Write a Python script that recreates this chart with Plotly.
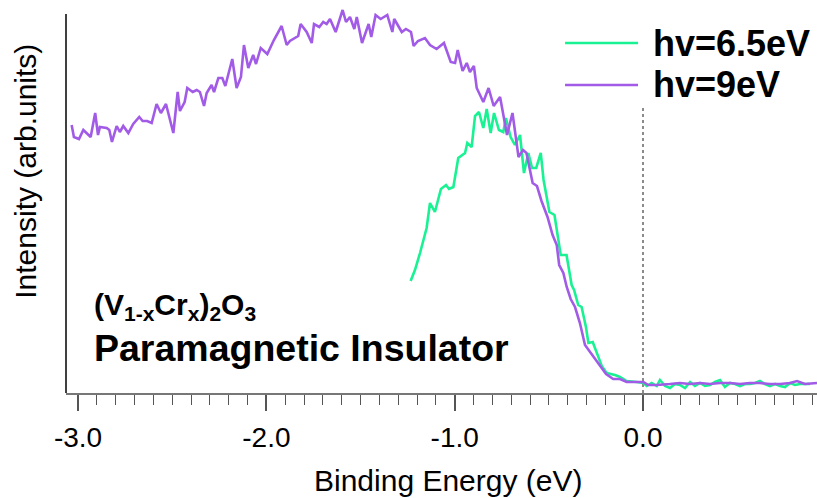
import plotly.graph_objects as go

# ---- data (binding energy in eV, intensity in arb. units) ----
E_9eV = [-3.034, -3.022, -2.995, -2.972, -2.933, -2.909, -2.894, -2.884, -2.848, -2.834,
         -2.820, -2.795, -2.778, -2.760, -2.733, -2.707, -2.675, -2.657, -2.633, -2.609,
         -2.583, -2.560, -2.533, -2.494, -2.471, -2.459, -2.434, -2.420, -2.391, -2.370,
         -2.353, -2.331, -2.317, -2.291, -2.278, -2.255, -2.234, -2.218, -2.181, -2.158,
         -2.135, -2.119, -2.096, -2.070, -2.055, -2.030, -1.995, -1.960, -1.919, -1.892,
         -1.875, -1.831, -1.818, -1.786, -1.759, -1.747, -1.719, -1.698, -1.680, -1.662,
         -1.632, -1.595, -1.577, -1.556, -1.533, -1.520, -1.492, -1.457, -1.443, -1.420,
         -1.393, -1.358, -1.331, -1.321, -1.281, -1.259, -1.232, -1.218, -1.195, -1.158,
         -1.131, -1.096, -1.057, -1.021, -0.998, -0.984, -0.958, -0.936, -0.919, -0.898,
         -0.883, -0.848, -0.820, -0.793, -0.759, -0.722, -0.693, -0.661, -0.637, -0.619,
         -0.586, -0.563, -0.539, -0.507, -0.480, -0.458, -0.445, -0.423, -0.405, -0.384,
         -0.361, -0.335, -0.308, -0.281, -0.246, -0.196, -0.158, -0.122, -0.087, -0.052,
         0.002, 0.028, 0.073, 0.143, 0.196, 0.250, 0.303, 0.356, 0.409, 0.462,
         0.515, 0.568, 0.621, 0.674, 0.728, 0.781, 0.818, 0.860, 0.897, 0.924]
I_9eV = [268, 256, 254, 263, 256, 280, 258, 266, 265, 263,
         251, 267, 261, 267, 260, 269, 276, 272, 272, 270,
         289, 280, 289, 260, 301, 282, 291, 305, 301, 303,
         301, 287, 300, 308, 301, 315, 315, 307, 334, 305,
         316, 348, 325, 338, 329, 345, 339, 353, 367, 348,
         352, 357, 369, 361, 350, 369, 366, 371, 369, 374,
         361, 383, 371, 376, 364, 376, 350, 369, 356, 378,
         374, 378, 361, 374, 361, 364, 361, 347, 352, 355,
         348, 344, 350, 331, 330, 343, 322, 330, 321, 327,
         305, 291, 305, 287, 296, 258, 280, 236, 243, 240,
         210, 207, 192, 176, 158, 148, 128, 120, 106, 94,
         86, 70, 48, 41, 33, 19, 14, 14, 11, 11,
         11, 8, 8, 9, 10, 9, 10, 9, 10, 10,
         9, 10, 10, 9, 9, 10, 12, 9, 10, 10]

E_65eV = [-1.234, -1.211, -1.184, -1.170, -1.149, -1.131, -1.105, -1.073, -1.046, -1.030,
          -1.007, -0.981, -0.963, -0.945, -0.933, -0.910, -0.892, -0.871, -0.848, -0.830,
          -0.809, -0.791, -0.765, -0.742, -0.728, -0.703, -0.680, -0.653, -0.632, -0.609,
          -0.589, -0.567, -0.543, -0.528, -0.497, -0.470, -0.437, -0.406, -0.379, -0.366,
          -0.344, -0.326, -0.303, -0.290, -0.267, -0.246, -0.219, -0.193, -0.149, -0.122,
          -0.087, -0.033, 0.002, 0.020, 0.046, 0.073, 0.090, 0.117, 0.143, 0.170,
          0.196, 0.223, 0.250, 0.276, 0.303, 0.329, 0.356, 0.382, 0.409, 0.435,
          0.462, 0.489, 0.515, 0.542, 0.568, 0.595, 0.621, 0.648, 0.674, 0.701,
          0.728, 0.754, 0.781, 0.807, 0.834, 0.860, 0.887]
I_65eV = [112, 123, 140, 151, 165, 190, 181, 204, 208, 204,
          206, 235, 238, 240, 250, 246, 277, 281, 265, 284,
          260, 280, 263, 261, 275, 256, 248, 258, 220, 240,
          225, 225, 240, 213, 181, 178, 138, 138, 108, 103,
          88, 86, 66, 50, 51, 40, 27, 20, 18, 16,
          12, 11, 10, 7, 10, 7, 13, 7, 5, 9,
          8, 5, 11, 7, 10, 7, 8, 11, 13, 6,
          10, 9, 7, 9, 9, 10, 12, 9, 7, 9,
          7, 6, 10, 8, 9, 9, 9]

X_TICK_VALUES = [-3.0, -2.0, -1.0, 0.0]
X_TICK_LABELS = ["-3.0", "-2.0", "-1.0", "0.0"]
SERIES_NAMES = ["hv=6.5eV", "hv=9eV"]
FERMI_LEVEL = 0.0
FERMI_LINE_TOP = 285

GREEN = "#19f293"
PURPLE = "#a25be6"
FONT = "Liberation Sans, Arial, Helvetica, sans-serif"

fig = go.Figure()
fig.add_trace(go.Scatter(x=E_65eV, y=I_65eV, mode="lines", name=SERIES_NAMES[0],
                         line=dict(color=GREEN, width=2.6), showlegend=False))
fig.add_trace(go.Scatter(x=E_9eV, y=I_9eV, mode="lines", name=SERIES_NAMES[1],
                         line=dict(color=PURPLE, width=2.6), showlegend=False))

# Fermi level dotted line
fig.add_shape(type="line", xref="x", yref="y", x0=FERMI_LEVEL, x1=FERMI_LEVEL,
              y0=0, y1=FERMI_LINE_TOP, line=dict(color="#666666", width=1.5, dash="dot"),
              layer="below")
# y axis line (shorter than the plotting area)
fig.add_shape(type="line", xref="paper", yref="paper", x0=0, x1=0, y0=0, y1=0.977,
              line=dict(color="black", width=1.5))

# manual legend
leg_y = [0.902, 0.794]
for name, col, yy in zip(SERIES_NAMES, [GREEN, PURPLE], leg_y):
    fig.add_shape(type="line", xref="paper", yref="paper", x0=0.6645, x1=0.7617,
                  y0=yy, y1=yy, line=dict(color=col, width=2.6))
    fig.add_annotation(xref="paper", yref="paper", x=0.7790, y=yy, text="<b>%s</b>" % name,
                       showarrow=False, xanchor="left", yanchor="middle",
                       font=dict(family=FONT, size=36, color="black"))

fig.add_annotation(xref="paper", yref="paper", x=0.034, y=0.222,
                   text="<b>(V<sub>1-x</sub>Cr<sub>x</sub>)<sub>2</sub>O<sub>3</sub></b>",
                   showarrow=False, xanchor="left", yanchor="middle",
                   font=dict(family=FONT, size=30, color="black"))
fig.add_annotation(xref="paper", yref="paper", x=0.034, y=0.115,
                   text="<b>Paramagnetic Insulator</b>",
                   showarrow=False, xanchor="left", yanchor="middle",
                   font=dict(family=FONT, size=37.5, color="black"))

# axis titles
fig.add_annotation(xref="paper", yref="paper", x=0.5087, y=-0.226,
                   text="Binding Energy (eV)", showarrow=False,
                   xanchor="center", yanchor="middle",
                   font=dict(family=FONT, size=30, color="black"))
fig.add_annotation(xref="paper", yref="paper", x=-0.055, y=0.572,
                   text="Intensity (arb.units)", showarrow=False, textangle=-90,
                   xanchor="center", yanchor="middle",
                   font=dict(family=FONT, size=30, color="black"))

fig.update_layout(
    width=817, height=498,
    margin=dict(l=66, r=0, t=5, b=105),
    paper_bgcolor="white", plot_bgcolor="white",
    font=dict(family=FONT, color="black"),
    showlegend=False,
)
fig.update_xaxes(range=[-3.064, 0.924], showgrid=False, zeroline=False,
                 showline=True, linecolor="#777777", linewidth=2,
                 ticks="outside", ticklen=16, tickwidth=1.5, tickcolor="#555555",
                 tickvals=X_TICK_VALUES, ticktext=X_TICK_LABELS, ticklabelstandoff=2,
                 tickfont=dict(family=FONT, size=28, color="black"),
                 minor=dict(dtick=0.1, tick0=-3.0, ticks="outside", ticklen=10,
                            tickwidth=1.2, tickcolor="#555555", showgrid=False))
fig.update_yaxes(range=[0, 388], showgrid=False, zeroline=False, showline=False,
                 showticklabels=False, ticks="")

fig.write_html("out.html")
